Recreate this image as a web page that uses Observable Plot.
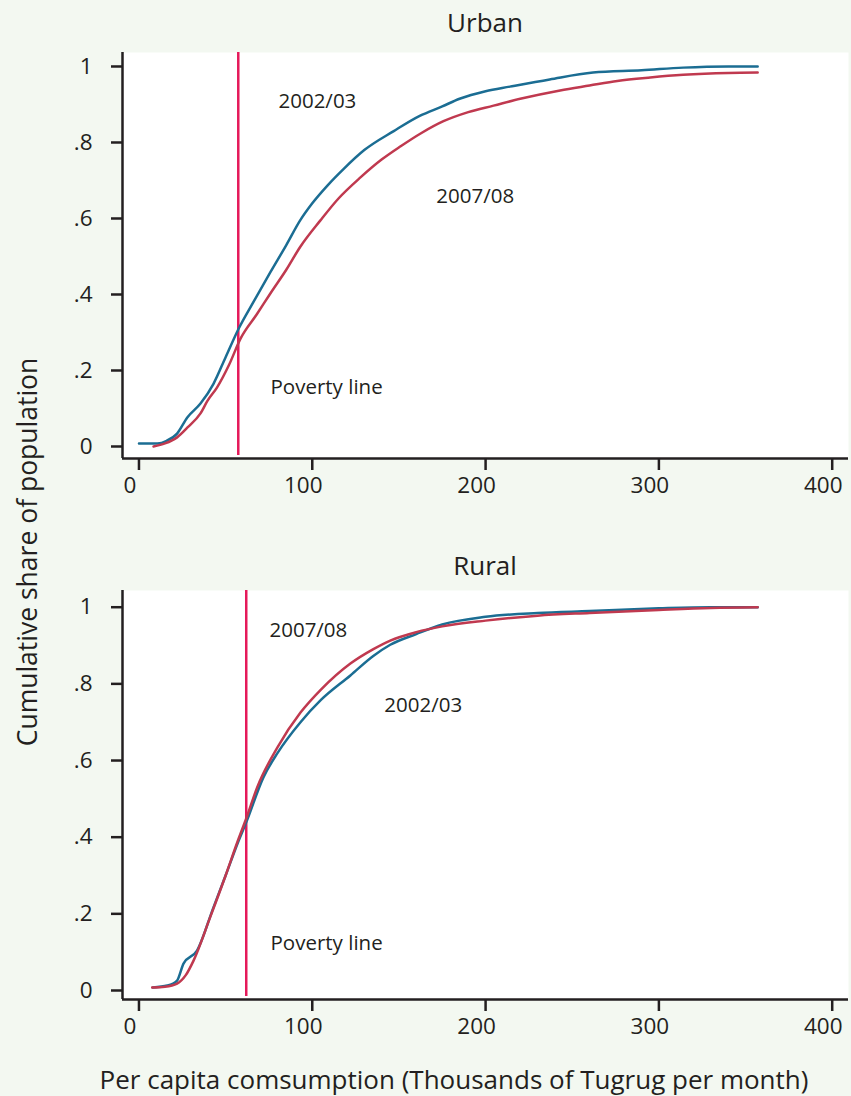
<!DOCTYPE html>
<html>
<head>
<meta charset="utf-8">
<script src="https://cdn.jsdelivr.net/npm/d3@7"></script>
<script src="https://cdn.jsdelivr.net/npm/@observablehq/plot@0.6"></script>
<style>
  html, body { margin: 0; padding: 0; background: #f3f8f1; }
  #wrap { position: relative; width: 851px; height: 1096px; background: #f3f8f1; font-family: "Open Sans", sans-serif; color: #231f20; overflow: hidden; }
  .abs { position: absolute; }
  .title { font-size: 26px; width: 726px; left: 122px; text-align: center; line-height: 32px; }
  #ytitle { font-size: 26.5px; line-height: 30px; white-space: nowrap; left: 27px; top: 552px; transform: translate(-50%, -50%) rotate(-90deg); }
  #xtitle { font-size: 26px; line-height: 28px; white-space: nowrap; left: 454px; top: 1079px; transform: translate(-50%, -50%); }
</style>
</head>
<body>
<div id="wrap">
  <div class="abs title" id="t1" style="top:6px">Urban</div>
  <div class="abs" id="p1" style="top:0px;left:0px"></div>
  <div class="abs title" id="t2" style="top:549px">Rural</div>
  <div class="abs" id="p2" style="top:540px;left:0px"></div>
  <div class="abs" id="ytitle">Cumulative share of population</div>
  <div class="abs" id="xtitle">Per capita comsumption (Thousands of Tugrug per month)</div>
</div>
<script>
// ---- Data ----
const seriesNames = ["2002/03", "2007/08"];
const seriesColors = ["#1b6d93", "#c0394f"];
const povertyColor = "#e5195a";

const xTicks = [0, 100, 200, 300, 400];
const yTicks = [0, 0.2, 0.4, 0.6, 0.8, 1];
const yTickLabels = ["0", ".2", ".4", ".6", ".8", "1"];

// Urban
const urban0203X = [0, 10.6, 16, 22, 28, 35.5, 43, 50, 57.5, 66, 76, 85, 93, 100, 109, 118, 130, 147, 162, 175, 185, 200, 214, 237, 262, 290, 314, 340, 357];
const urban0203Y = [0.008, 0.008, 0.015, 0.034, 0.077, 0.113, 0.165, 0.235, 0.31, 0.38, 0.46, 0.53, 0.595, 0.64, 0.688, 0.73, 0.78, 0.83, 0.87, 0.895, 0.915, 0.935, 0.947, 0.966, 0.984, 0.99, 0.997, 1.0, 1.0];
const urban0708X = [8.4, 15, 22, 28, 35.5, 39.5, 45, 52, 58.6, 68, 76, 85, 93, 104.7, 115, 127.8, 140, 151, 163, 175.7, 190, 204.6, 220, 243, 260, 276, 295, 314, 340, 357];
const urban0708Y = [0.0, 0.008, 0.024, 0.05, 0.087, 0.12, 0.155, 0.215, 0.284, 0.348, 0.404, 0.465, 0.525, 0.595, 0.652, 0.708, 0.755, 0.79, 0.825, 0.856, 0.88, 0.897, 0.915, 0.937, 0.95, 0.962, 0.971, 0.978, 0.983, 0.984];
const urbanPoverty = 57.3;

// Rural
const rural0203X = [8, 16.4, 22, 25.7, 33.5, 43, 50, 57, 62, 71.8, 80, 93.2, 105, 122, 135, 145, 160, 175, 200, 230, 260, 300, 330, 357];
const rural0203Y = [0.008, 0.013, 0.026, 0.07, 0.104, 0.217, 0.30, 0.385, 0.44, 0.556, 0.62, 0.70, 0.758, 0.822, 0.872, 0.902, 0.93, 0.955, 0.975, 0.985, 0.99, 0.997, 1.0, 1.0];
const rural0708X = [7.6, 15, 22, 27, 31.5, 41, 50, 57, 62, 68.2, 80, 93.2, 105, 122, 135, 145, 160, 175, 200, 230, 260, 300, 330, 357];
const rural0708Y = [0.008, 0.01, 0.018, 0.04, 0.078, 0.19, 0.30, 0.39, 0.45, 0.53, 0.635, 0.725, 0.785, 0.853, 0.89, 0.913, 0.935, 0.95, 0.965, 0.978, 0.985, 0.993, 0.998, 1.0];
const ruralPoverty = 61.9;

// Annotation labels
const urbanLabels = [
  {x: 80.5, y: 0.908, text: "2002/03"},
  {x: 171.6, y: 0.658, text: "2007/08"},
  {x: 75.9, y: 0.155, text: "Poverty line"}
];
const ruralLabels = [
  {x: 75.3, y: 0.939, text: "2007/08"},
  {x: 141.6, y: 0.744, text: "2002/03"},
  {x: 75.9, y: 0.123, text: "Poverty line"}
];

// ---- Build ----
function rows(xs, ys, name) { return xs.map((x, i) => ({x, y: ys[i], series: name})); }

function panel({lines, poverty, labels, height, marginTop, marginBottom, yDomain}) {
  const xDomain = [-9.5, 409.4];
  const ink = "#231f20";
  return Plot.plot({
    width: 851,
    height,
    marginLeft: 122,
    marginRight: 3,
    marginTop,
    marginBottom,
    style: {background: "transparent", fontFamily: "Open Sans, sans-serif", color: ink, overflow: "visible"},
    x: {domain: xDomain},
    y: {domain: yDomain},
    color: {domain: seriesNames, range: seriesColors},
    marks: [
      Plot.frame({fill: "white", stroke: "none"}),
      Plot.ruleX([poverty], {stroke: povertyColor, strokeWidth: 2.5, insetBottom: 3}),
      Plot.line(lines, {x: "x", y: "y", z: "series", stroke: "series", strokeWidth: 2.5, curve: "monotone-x"}),
      Plot.text(labels, {x: "x", y: "y", text: "text", textAnchor: "start", fontSize: 20.5, fill: ink}),
      Plot.ruleX([xDomain[0]], {stroke: ink, strokeWidth: 2.5}),
      Plot.ruleY([yDomain[0]], {stroke: ink, strokeWidth: 2.5}),
      // x tick marks
      Plot.axisX(xTicks, {tickSize: 12, strokeWidth: 2.5, stroke: ink, label: null, tickFormat: () => ""}),
      // x tick labels (shifted slightly left as in the reference)
      Plot.axisX(xTicks, {tickSize: 0, tickPadding: 19, fontSize: 22.5, fill: ink, dx: -9, label: null, tickFormat: d => String(d)}),
      Plot.axisY(yTicks, {tickSize: 11, tickPadding: 19, fontSize: 22.5, strokeWidth: 2.5, stroke: ink, fill: ink, label: null, tickFormat: d => yTickLabels[yTicks.indexOf(d)]})
    ]
  });
}

const urbanLines = rows(urban0203X, urban0203Y, seriesNames[0]).concat(rows(urban0708X, urban0708Y, seriesNames[1]));
const ruralLines = rows(rural0203X, rural0203Y, seriesNames[0]).concat(rows(rural0708X, rural0708Y, seriesNames[1]));

document.getElementById("p1").appendChild(panel({
  lines: urbanLines, poverty: urbanPoverty, labels: urbanLabels,
  height: 500, marginTop: 52, marginBottom: 42, yDomain: [-0.0316, 1.0368]
}));
document.getElementById("p2").appendChild(panel({
  lines: ruralLines, poverty: ruralPoverty, labels: ruralLabels,
  height: 510, marginTop: 50, marginBottom: 51, yDomain: [-0.0235, 1.0436]
}));
</script>
</body>
</html>
